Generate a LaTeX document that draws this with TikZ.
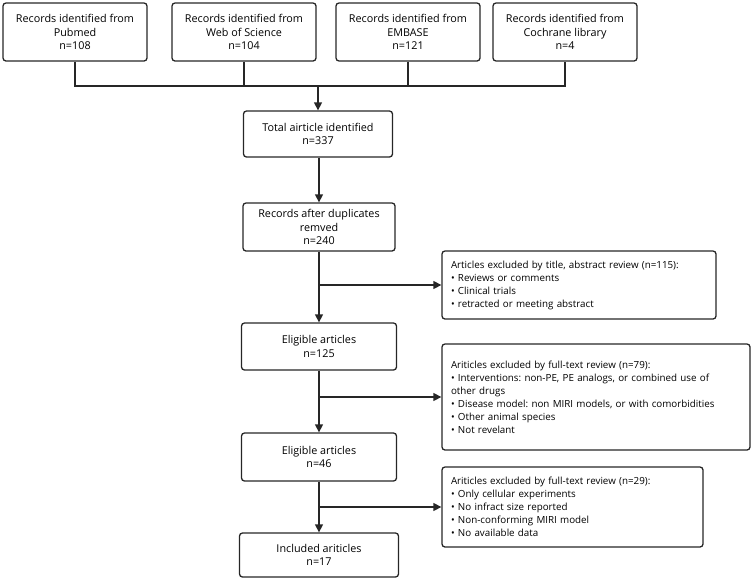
\documentclass[tikz,border=0pt]{standalone}
\usepackage{fontspec}
\setmainfont{Open Sans}
\usetikzlibrary{arrows.meta}
\frenchspacing
\begin{document}
\begin{tikzpicture}[x=1pt,y=-1pt,
  box/.style={draw=black!85,line width=1.3pt,rounded corners=3pt,inner sep=0pt,align=center,
    font=\fontsize{10.8}{13.5}\selectfont\frenchspacing},
  exbox/.style={draw=black!85,line width=1.3pt,rounded corners=3pt,inner xsep=9pt,inner ysep=0pt,align=left,
    font=\fontsize{9.8}{13}\selectfont\frenchspacing},
  line/.style={draw=black!85,line width=1.3pt},
  arr/.style={line,-{Triangle[length=8pt,width=8pt]}}]
\useasboundingbox (0,0) rectangle (754,582);
\node[box,minimum width=144pt,minimum height=58pt] (b1) at (75,32) {Records identified from\\Pubmed\\n=108};
\node[box,minimum width=144pt,minimum height=58pt] (b2) at (244,32) {Records identified from\\Web of Science\\n=104};
\node[box,minimum width=144pt,minimum height=58pt] (b3) at (408,32) {Records identified from\\EMBASE\\n=121};
\node[box,minimum width=144pt,minimum height=58pt] (b4) at (565,32) {Records identified from\\Cochrane library\\n=4};
\node[box,minimum width=149pt,minimum height=46pt] (total) at (318,134) {Total airticle identified\\n=337};
\node[box,minimum width=152pt,minimum height=48pt] (rec) at (319,227) {Records after duplicates\\remved\\n=240};
\node[box,minimum width=155pt,minimum height=47pt] (el1) at (319,346.5) {Eligible articles\\n=125};
\node[box,minimum width=155pt,minimum height=48pt] (el2) at (319,457) {Eligible articles\\n=46};
\node[box,minimum width=159pt,minimum height=44pt] (inc) at (319,555) {Included ariticles\\n=17};
\node[exbox,text width=256pt,minimum height=68pt] (ex1) at (579,285) {Articles excluded by title, abstract review (n=115):\\
• Reviews or comments\\• Clinical trials\\• retracted or meeting abstract};
\node[exbox,text width=290pt,minimum height=106pt] (ex2) at (596,397) {Ariticles excluded by full-text review (n=79):\\
• Interventions: non-PE, PE analogs, or combined use of\\other drugs\\
• Disease model: non MIRI models, or with comorbidities\\• Other animal species\\• Not revelant};
\node[exbox,text width=243pt,minimum height=80pt] (ex3) at (572.5,507) {Ariticles excluded by full-text review (n=29):\\
• Only cellular experiments\\• No infract size reported\\• Non-conforming MIRI model\\• No available data};
\coordinate (j) at (318,86);
\draw[line] (b1.south) -- (b1.south |- j) -- (b4.south |- j) -- (b4.south);
\draw[line] (b2.south) -- (b2.south |- j);
\draw[line] (b3.south) -- (b3.south |- j);
\draw[arr] (j) -- (total.north);
\draw[arr] (total.south -| rec.north) -- (rec.north);
\draw[arr] (rec.south) -- (el1.north);
\draw[arr] (el1.south) -- (el2.north);
\draw[arr] (el2.south) -- (inc.north);
\coordinate (k1) at (rec.south |- ex1.west);
\coordinate (k2) at (el1.south |- ex2.west);
\coordinate (k3) at (el2.south |- ex3.west);
\draw[arr] (k1) -- (ex1.west);
\draw[arr] (k2) -- (ex2.west);
\draw[arr] (k3) -- (ex3.west);
\end{tikzpicture}
\end{document}
